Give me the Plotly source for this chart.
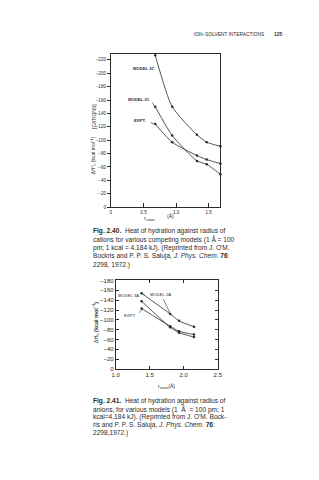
import plotly.graph_objects as go

# ---- data: Fig. 2.40 (cations) ----
cation_r = [0.68, 0.94, 1.32, 1.47, 1.68]
model_2c = [-227, -150, -108, -97, -91]
model_3c = [-150, -107, -69, -64, -49]
expt_c = [-124, -97, -77, -71, -65]
cat_yticks = [0, -20, -40, -60, -80, -100, -120, -140, -160, -180, -200, -220]
cat_xticks = [0, 0.5, 1.0, 1.5]
cat_xlabels = ["0", "0.5", "1.0", "1.5"]

# ---- data: Fig. 2.41 (anions) ----
anion_r = [1.38, 1.80, 1.93, 2.15]
model_2a = [-154, -112, -98, -86]
model_3a = [-138, -85, -74, -65]
expt_a = [-123, -87, -77, -70]
an_yticks = [0, -20, -40, -60, -80, -100, -120, -140, -160, -180]
an_xticks = [1.0, 1.5, 2.0, 2.5]
an_xlabels = ["1.0", "1.5", "2.0", "2.5"]

W, H = 319, 480
INK = "#2b2b2b"
FONT = "Liberation Sans, Arial, sans-serif"

def px(x):
    return x / W

def py(y):
    return 1 - y / H

fig = go.Figure()

line_style = dict(color=INK, width=0.8, shape="spline", smoothing=0.6)
mk = dict(color=INK, size=2.5)
for ys in (model_2c, model_3c, expt_c):
    fig.add_trace(go.Scatter(x=cation_r, y=ys, mode="lines+markers", line=line_style,
                             marker=mk, xaxis="x", yaxis="y", cliponaxis=False,
                             showlegend=False, hoverinfo="skip"))
for ys in (model_2a, model_3a, expt_a):
    fig.add_trace(go.Scatter(x=anion_r, y=ys, mode="lines+markers", line=line_style,
                             marker=mk, xaxis="x2", yaxis="y2", cliponaxis=False,
                             showlegend=False, hoverinfo="skip"))

def axis(fsize, **kw):
    d = dict(showline=True, mirror=True, linecolor=INK, linewidth=0.9,
             showgrid=False, zeroline=False, tickcolor=INK, ticklen=3,
             tickwidth=0.8, tickfont=dict(family=FONT, size=fsize, color=INK))
    d.update(kw)
    return d

fig.update_layout(
    width=W, height=H, margin=dict(l=0, r=0, t=0, b=0),
    paper_bgcolor="white", plot_bgcolor="white",
    xaxis=axis(4.6, domain=[px(110), px(222.7)], range=[0, 1.68], tickmode="array",
               tickvals=cat_xticks, ticktext=cat_xlabels, ticks="inside", ticklen=4,
               anchor="y"),
    yaxis=axis(4.6, domain=[py(206.7), py(51.7)], range=[0, -228.7], tickmode="array",
               tickvals=cat_yticks, ticks="outside", anchor="x"),
    xaxis2=axis(6, domain=[px(115), px(220)], range=[1.0, 2.5], tickmode="array",
                tickvals=an_xticks, ticktext=an_xlabels, ticks="inside",
                mirror="allticks", anchor="y2"),
    yaxis2=axis(6, domain=[py(370.7), py(281)], range=[0, -180], tickmode="array",
                tickvals=an_yticks, ticks="inside", mirror="allticks", anchor="x2"),
)

ann = []

def text(x, y, s, size=6, xanchor="left", angle=0, yanchor="middle"):
    ann.append(dict(x=px(x), y=py(y), xref="paper", yref="paper", text=s,
                    showarrow=False, xanchor=xanchor, yanchor=yanchor, textangle=angle,
                    font=dict(family=FONT, size=size, color=INK)))

def leader(x, y, ax, ay, head=0):
    ann.append(dict(x=px(x), y=py(y), ax=ax, ay=ay, xref="paper", yref="paper",
                    showarrow=True, arrowhead=head, arrowsize=0.5, arrowwidth=0.6,
                    arrowcolor=INK, text=""))

# header
text(193, 31.7, "ION–SOLVENT INTERACTIONS", size=4.8)
text(276, 31.7, "<b>125</b>", size=5)

# top chart labels
text(157, 66.7, "<b>MODEL 2C</b>", size=4.2, xanchor="right")
text(152, 97.7, "<b>MODEL 3C</b>", size=4.2, xanchor="right")
text(148.5, 119, "<b>EXPT.</b>", size=4.2, xanchor="right")
leader(155.3, 105.3, -3.5, -6)
leader(155.3, 122.7, -6, -2)
text(92, 115, "[CATIONS]", size=5, xanchor="center", angle=-90)
text(92, 154, "ΔH<sup>o</sup><sub>h</sub> (kcal mol<sup>−1</sup>)", size=5, xanchor="center", angle=-90)
text(150, 218.5, "r<sub>cation</sub>", size=5, xanchor="center")
text(171.5, 216, "(Å)", size=5, xanchor="center")

# bottom chart labels
text(141, 296, "MODEL 3A", size=4.2, xanchor="right")
text(148, 295.3, "MODEL 2A", size=4.2)
text(138, 316.7, "EXPT.", size=4.2, xanchor="right")
leader(170.5, 313.5, -7, -15, head=1)
leader(142.3, 294, 4, 3)
leader(142.3, 309.3, -4, 6)
text(95, 323, "ΔH<sub>h</sub> <b>(kcal mol<sup>−1</sup>)</b>", size=5.5, xanchor="center", angle=-90)
text(167, 388.3, "r<sub>anion</sub>(Å)", size=5, xanchor="center")

cap1 = ["<b>Fig. 2.40.</b>  Heat of hydration against radius of",
        "cations for various competing models (1 Å = 100",
        "pm; 1 kcal = 4.184 kJ). (Reprinted from J. O'M.",
        "Bockris and P. P. S. Saluja, <i>J. Phys. Chem.</i> <b>76</b>:",
        "2298, 1972.)"]
for i, s in enumerate(cap1):
    text(90, 231 + i * 8.5, s, size=6.6)

cap2 = ["<b>Fig. 2.41.</b>  Heat of hydration against radius of",
        "anions, for various models (1  Å  = 100 pm; 1",
        "kcal=4.184 kJ). (Reprinted from J. O'M. Bock-",
        "ris and P. P. S. Saluja, <i>J. Phys. Chem.</i> <b>76</b>:",
        "2298,1972.)"]
for i, s in enumerate(cap2):
    text(90, 403.3 + i * 8.1, s, size=6.6)

fig.update_layout(annotations=ann)
fig.write_html("out.html")
